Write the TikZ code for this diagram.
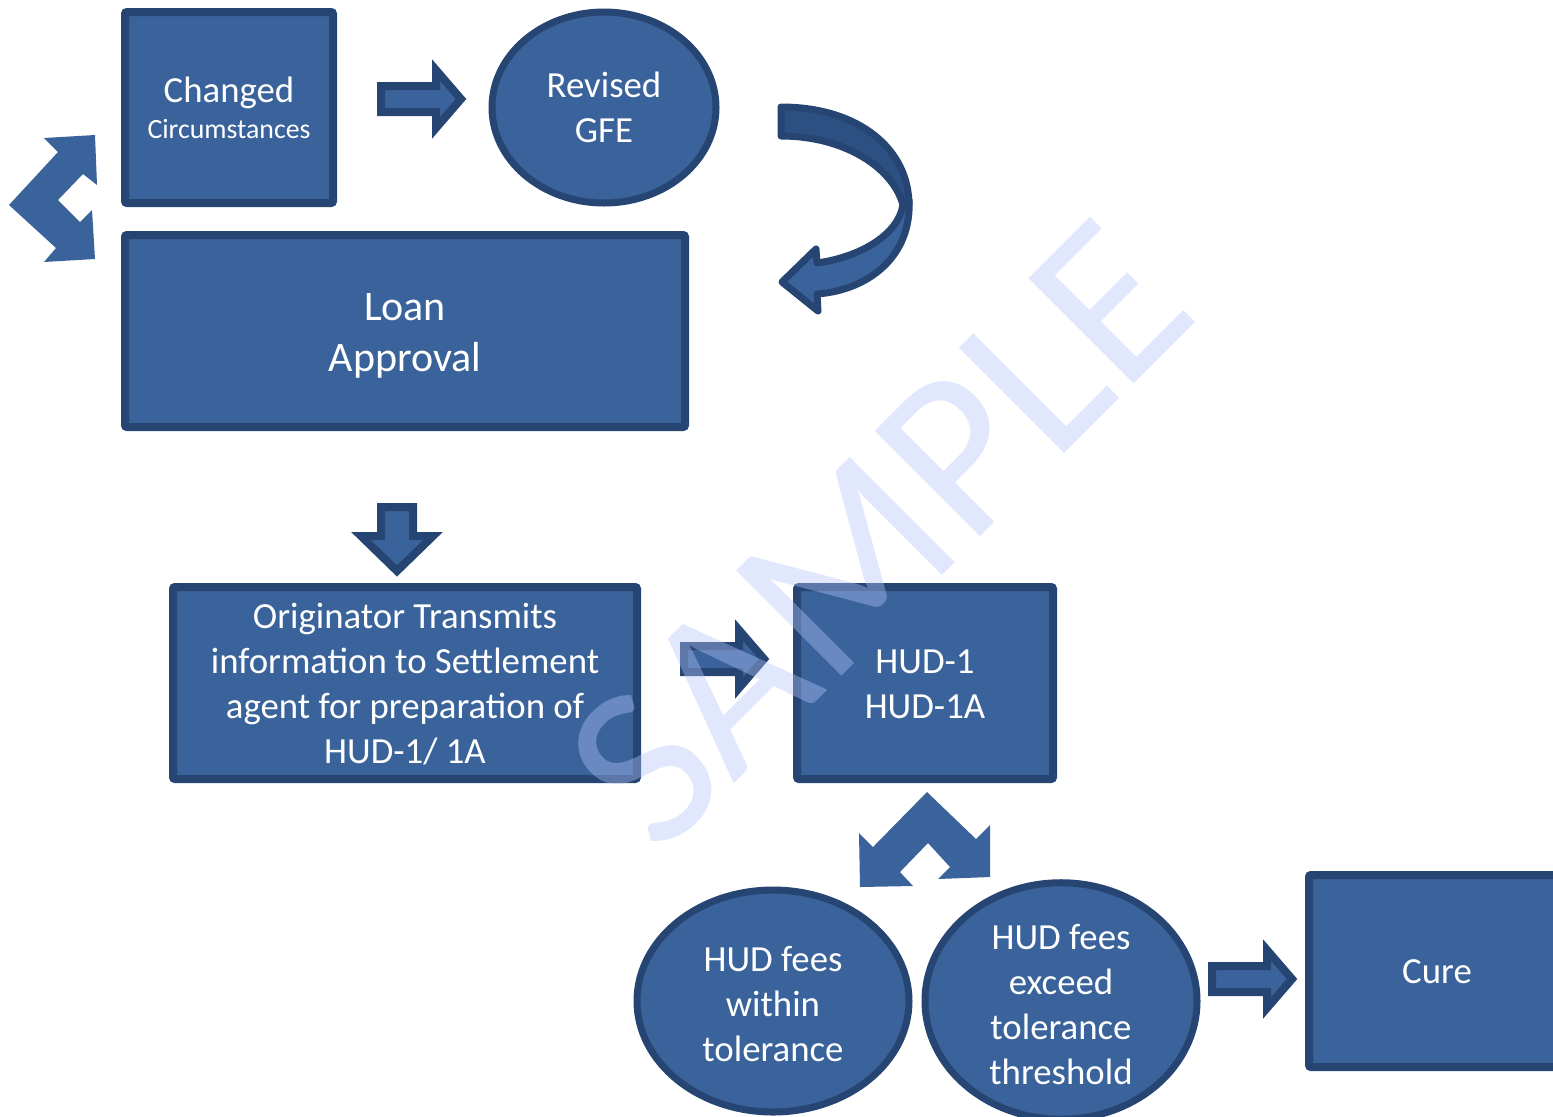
\documentclass[tikz,border=0pt]{standalone}
\usepackage{fontspec}
\setmainfont{Carlito}
\usetikzlibrary{shapes.geometric}
\definecolor{mainblue}{RGB}{58,99,155}
\definecolor{darkblue}{RGB}{38,69,115}
\definecolor{backblue}{RGB}{45,80,130}
\definecolor{wmark}{RGB}{180,195,250}
\newcommand{\topgap}[1]{\rule{0pt}{#1}}
\begin{document}
\begin{tikzpicture}[x=0.5pt,y=-0.5pt,
  box/.style={draw=darkblue,fill=mainblue,line width=4pt,rectangle,rounded corners=1pt,inner sep=0pt,text=white,align=center,font=\fontsize{18.4}{22.5}\selectfont},
  oval/.style={draw=darkblue,fill=mainblue,line width=3.5pt,ellipse,inner sep=0pt,text=white,align=center,font=\fontsize{18.4}{22.5}\selectfont},
  blockarrow/.style={draw=darkblue,fill=mainblue,line width=4pt,line join=miter},
  flatarrow/.style={fill=mainblue},
  curveback/.style={draw=darkblue,fill=backblue,line width=3.5pt,line join=round},
  curvefront/.style={draw=darkblue,fill=mainblue,line width=3.5pt,line join=round},
  rarrow/.pic={\path[blockarrow] (4,-13) -- (59,-13) -- (59,-29) -- (84,0) -- (59,29) -- (59,13) -- (4,13) -- cycle;}
]
\useasboundingbox (0,0) rectangle (1553,1116);
\begin{scope}
\clip (0,0) rectangle (1553,1116);
% main nodes
\node[box,minimum width=104pt,minimum height=95.5pt] (chg) at (229,107.5)
  {{\fontsize{18.4}{20}\selectfont Changed}\\[-4.5pt]{\fontsize{13.9}{16}\selectfont Circumstances}};
\node[oval,minimum width=112pt,minimum height=95.5pt] (gfe) at (604,107.5) {Revised\\GFE};
\node[box,minimum width=280pt,minimum height=96pt,font=\fontsize{21}{25.5}\selectfont] (loan) at (405,331) {\topgap{18pt}Loan\\Approval};
\node[box,minimum width=232pt,minimum height=96pt] (orig) at (405,683)
  {\topgap{14pt}Originator Transmits\\information to Settlement\\agent for preparation of\\HUD-1/ 1A};
\node[box,minimum width=128pt,minimum height=96pt] (hud) at (925,683) {\topgap{13pt}HUD-1\\HUD-1A};
\node[oval,minimum width=136pt,minimum height=111pt] (within) at (773,1001) {\topgap{16pt}HUD fees\\within\\tolerance};
\node[oval,minimum width=136pt,minimum height=111pt] (exceed) at (1061,1001) {\topgap{16pt}HUD fees\\exceed\\tolerance\\threshold};
\node[box,minimum width=128pt,minimum height=96pt] (cure) at (1437,971) {\topgap{13pt}Cure};

% block arrows
\pic at (377,99) {rarrow};
\pic at (680,659) {rarrow};
\pic at (1208,979) {rarrow};
\path[blockarrow] (381,507) -- (413,507) -- (413,536) -- (433,536) -- (397,571) -- (361,536) -- (381,536) -- cycle;

% left bent double arrow
\path[flatarrow] (9,205) -- (58,152) -- (44,138) -- (95,135) -- (97,185) -- (83,174) -- (58,200)
  -- (80,222) -- (92,210) -- (95,259) -- (44,262) -- (56,248) -- cycle;
% bottom bent double arrow
\path[flatarrow] (927,792) -- (873,847) -- (859,833) -- (860,887) -- (913,886) -- (900,872) -- (928,843)
  -- (950,867) -- (938,879) -- (990,877) -- (990,825) -- (976,839) -- cycle;

% curved arrow
\path[curveback] (781,107) .. controls (860,107) and (909,150) .. (909,205) -- (903,205)
  .. controls (893,168) and (845,136) .. (781,136) -- cycle;
\path[curvefront] (909,200) .. controls (912,255) and (870,290) .. (817,294) -- (818,311) -- (782,282)
  -- (816,249) -- (817,263) .. controls (860,257) and (898,235) .. (903,205) -- cycle;
\end{scope}
% watermark
\node[text=wmark,opacity=0.4,rotate=45,font=\fontsize{116}{116}\selectfont] (wm) at (878,534) {SAMPLE};
\end{tikzpicture}
\end{document}
